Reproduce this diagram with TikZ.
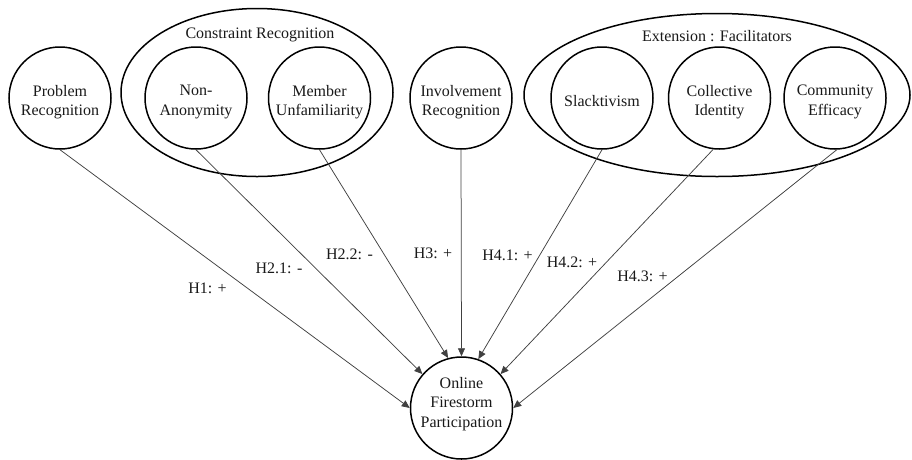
\documentclass[tikz,border=0pt]{standalone}
\usepackage{fontspec}
\setmainfont{Liberation Serif}
\usetikzlibrary{arrows.meta,shapes.geometric}
\begin{document}
\begin{tikzpicture}[x=1pt,y=-1pt,
  concept/.style={circle,draw,line width=1.5pt,minimum size=102pt,inner sep=0pt},
  ctext/.style={align=center,inner sep=0pt,text=black!90,font=\fontsize{16}{19.5}\selectfont},
  group/.style={ellipse,draw,line width=1.5pt,inner sep=0pt},
  lbl/.style={anchor=base,inner sep=0pt,text=black!90,font=\fontsize{16}{19.5}\selectfont},
  link/.style={draw=black!75,line width=0.75pt,-{Triangle[length=8pt,width=7pt]}}]
\useasboundingbox (0,0) rectangle (912,459);
% groups
\node[group,minimum width=272pt,minimum height=168pt] (crg) at (257,92.5) {};
\node[group,minimum width=386pt,minimum height=163pt] (efg) at (717,95) {};
\node[lbl] (crt) at (260,38.5) {Constraint Recognition};
\node[lbl] (eft) at (717,41) {Extension : Facilitators};
% concepts
\node[concept] (pr) at (60,98) {};
\node[concept] (na) at (196,98) {};
\node[concept] (mu) at (319.5,98) {};
\node[concept] (ir) at (461,98) {};
\node[concept] (sl) at (602,98) {};
\node[concept] (ci) at (719.5,98) {};
\node[concept] (ce) at (835,98) {};
\node[concept] (ofp) at (461.5,408) {};
\node[ctext,yshift=-4pt] (prt) at (pr) {Problem\\Recognition};
\node[ctext,yshift=-4pt] (nat) at (na) {Non-\\Anonymity};
\node[ctext,yshift=-4pt] (mut) at (mu) {Member\\Unfamiliarity};
\node[ctext,yshift=-4pt] (irt) at (ir) {Involvement\\Recognition};
\node[ctext,yshift=-3.5pt] (slt) at (sl) {Slacktivism};
\node[ctext,yshift=-4pt] (cit) at (ci) {Collective\\Identity};
\node[ctext,yshift=-4pt] (cet) at (ce) {Community\\Efficacy};
\node[ctext,yshift=4pt] (ofpt) at (ofp) {Online\\Firestorm\\Participation};
% connectors
\draw[link] (pr.south) -- (ofp.west);
\draw[link] (na.south) -- (ofp.139);
\draw[link] (mu.south) -- (ofp.105);
\draw[link] (ir.south) -- (ofp.north);
\draw[link] (sl.south) -- (ofp.71);
\draw[link] (ci.263) -- (ofp.41);
\draw[link] (ce.272) -- (ofp.east);
% labels
\node[lbl] (h1) at (207.5,293) {H1: +};
\node[lbl] (h21) at (279,273) {H2.1: -};
\node[lbl] (h22) at (349.5,259) {H2.2: -};
\node[lbl] (h3) at (433,258) {H3: +};
\node[lbl] (h41) at (507.5,260) {H4.1: +};
\node[lbl] (h42) at (572,267.5) {H4.2: +};
\node[lbl] (h43) at (642.5,281.5) {H4.3: +};
\end{tikzpicture}
\end{document}
